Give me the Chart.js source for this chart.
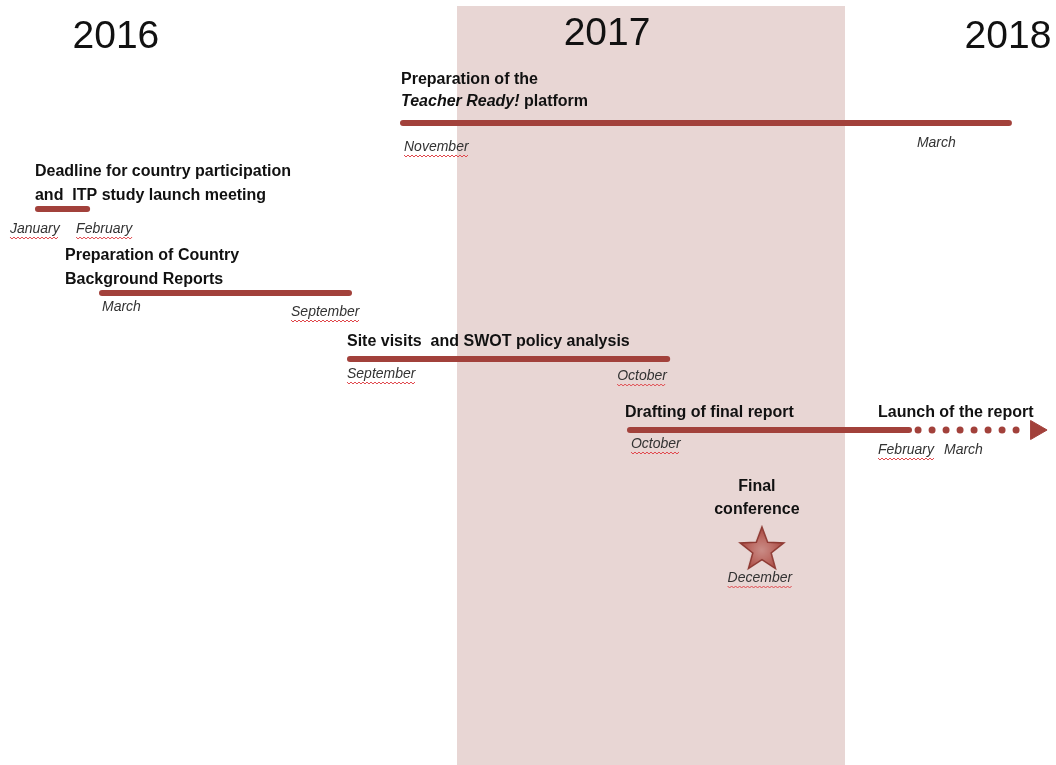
<!DOCTYPE html>
<html>
<head>
<meta charset="utf-8">
<script src="https://cdn.jsdelivr.net/npm/chart.js@4.4.1/dist/chart.umd.min.js"></script>
<style>
  html, body { margin: 0; padding: 0; background: #fff; }
  canvas { display: block; }
</style>
</head>
<body>
<canvas id="timeline" width="1056" height="765"></canvas>
<script>
// x = position on the drawn time axis, in months from January 2016 (the drawing is schematic, not to scale)
// y = lane of each activity, top to bottom
const yearLabels = ['2016', '2017', '2018'];
const yearPositions = [1.45, 16.64, 29.04];
const highlightedYear = [12, 24]; // shaded 2017 band

const activityTitles = [
    ['Preparation of the', '*Teacher Ready!* platform'],
    ['Deadline for country participation', 'and  ITP study launch meeting'],
    ['Preparation of Country', 'Background Reports'],
    ['Site visits  and SWOT policy analysis'],
    ['Drafting of final report'],
];
const activityStart = [10.33, -0.96, 1.02, 8.69, 17.35];
const activityEnd = [29.07, 0.56, 8.66, 18.50, 25.98];
const activityLane = [12.3, 20.9, 29.3, 35.9, 43.0];
const startMonths = ['November', 'January', 'March', 'September', 'October'];
const endMonths = ['March', 'February', 'September', 'October', null];

const launchTitle = 'Launch of the report';
const launchStart = 26.26;
const launchEnd = 29.66;
const launchArrow = 29.91;
const launchMonths = ['February', 'March'];

const conferenceTitle = ['Final', 'conference'];
const conferencePosition = 21.43;
const conferenceLane = 54.8;
const conferenceMonth = 'December';

// words the spell checker underlined in the original slide
const underlined = new Set(['January', 'February', 'September', 'October', 'November', 'December']);

// label placement, pixels relative to the start/end of each bar
const titleOffset = [
    { dx: -2, dy: [-43, -21] },
    { dx: -3, dy: [-37, -13] },
    { dx: -37, dy: [-37, -13] },
    { dx: -3, dy: [-17] },
    { dx: -5, dy: [-17] },
];
const startMonthOffset = [[1, 24], [-28, 20], [0, 14], [-3, 15], [1, 14]];
const endMonthOffset = [[-92, 20], [-11, 20], [-58, 19], [-50, 17], null];

const RED = '#a2413b';
const BAND = '#e8d6d4';
const TITLE_FONT = 'bold 16px "Liberation Sans", Arial, sans-serif';
const TITLE_ITALIC = 'italic bold 16px "Liberation Sans", Arial, sans-serif';
const MONTH_FONT = 'italic 14px "Liberation Sans", Arial, sans-serif';
const YEAR_FONT = '39px "Liberation Sans", Arial, sans-serif';

function makeStar(size) {
    const c = document.createElement('canvas');
    c.width = size;
    c.height = size;
    const g = c.getContext('2d');
    const cx = size / 2, cy = size / 2 + 2, outer = size / 2 - 2, inner = outer * 0.42;
    g.beginPath();
    for (let i = 0; i < 10; i++) {
        const r = i % 2 ? inner : outer;
        const a = -Math.PI / 2 + i * Math.PI / 5;
        const px = cx + Math.cos(a) * r, py = cy + Math.sin(a) * r;
        i ? g.lineTo(px, py) : g.moveTo(px, py);
    }
    g.closePath();
    const grad = g.createRadialGradient(cx, cy, 1, cx, cy, outer);
    grad.addColorStop(0, '#c98a84');
    grad.addColorStop(0.45, '#bd6e67');
    grad.addColorStop(1, '#a9463f');
    g.fillStyle = grad;
    g.fill();
    g.lineWidth = 1.5;
    g.strokeStyle = '#8e3a33';
    g.stroke();
    return c;
}

function squiggle(ctx, x, y, w) {
    ctx.save();
    ctx.strokeStyle = '#e0474c';
    ctx.lineWidth = 1;
    ctx.beginPath();
    for (let i = 0; i <= w; i += 2) {
        const yy = y + ((i / 2) % 2 ? 1 : -1);
        i === 0 ? ctx.moveTo(x + i, yy) : ctx.lineTo(x + i, yy);
    }
    ctx.stroke();
    ctx.restore();
}

function drawMonth(ctx, text, x, y, align) {
    ctx.font = MONTH_FONT;
    ctx.fillStyle = '#333';
    ctx.textAlign = 'left';
    ctx.textBaseline = 'middle';
    const w = ctx.measureText(text).width;
    const left = align === 'center' ? x - w / 2 : x;
    ctx.fillText(text, left, y);
    if (underlined.has(text)) squiggle(ctx, left, y + 9, w);
}

// '*...*' marks an italic run
function drawTitle(ctx, text, x, y, align) {
    const parts = text.split('*');
    let width = 0;
    parts.forEach((p, i) => {
        ctx.font = i % 2 ? TITLE_ITALIC : TITLE_FONT;
        width += ctx.measureText(p).width;
    });
    let cx = align === 'center' ? x - width / 2 : x;
    ctx.fillStyle = '#111';
    ctx.textAlign = 'left';
    ctx.textBaseline = 'middle';
    parts.forEach((p, i) => {
        ctx.font = i % 2 ? TITLE_ITALIC : TITLE_FONT;
        ctx.fillText(p, cx, y);
        cx += ctx.measureText(p).width;
    });
}

const timelineDecor = {
    id: 'timelineDecor',
    beforeDatasetsDraw(chart) {
        const { ctx, scales: { x, y } } = chart;
        ctx.save();
        ctx.fillStyle = BAND;
        const x0 = x.getPixelForValue(highlightedYear[0]);
        const x1 = x.getPixelForValue(highlightedYear[1]);
        const top = y.getPixelForValue(0.6);
        ctx.fillRect(x0, top, x1 - x0, y.getPixelForValue(y.max) - top);
        ctx.restore();
    },
    afterDatasetsDraw(chart) {
        const { ctx, scales: { x, y } } = chart;
        ctx.save();

        ctx.font = YEAR_FONT;
        ctx.fillStyle = '#111';
        ctx.textAlign = 'center';
        ctx.textBaseline = 'alphabetic';
        yearLabels.forEach((label, i) => {
            ctx.fillText(label, x.getPixelForValue(yearPositions[i]), y.getPixelForValue(i === 1 ? 4.5 : 4.8));
        });

        activityTitles.forEach((lines, i) => {
            const sx = x.getPixelForValue(activityStart[i]);
            const ex = x.getPixelForValue(activityEnd[i]);
            const ly = y.getPixelForValue(activityLane[i]);
            lines.forEach((line, j) => drawTitle(ctx, line, sx + titleOffset[i].dx, ly + titleOffset[i].dy[j]));
            drawMonth(ctx, startMonths[i], sx + startMonthOffset[i][0], ly + startMonthOffset[i][1]);
            if (endMonths[i]) drawMonth(ctx, endMonths[i], ex + endMonthOffset[i][0], ly + endMonthOffset[i][1]);
        });

        const dEnd = x.getPixelForValue(activityEnd[4]);
        const dLane = y.getPixelForValue(activityLane[4]);
        drawTitle(ctx, launchTitle, dEnd - 31, dLane - 17);
        drawMonth(ctx, launchMonths[0], dEnd - 31, dLane + 20);
        drawMonth(ctx, launchMonths[1], dEnd + 35, dLane + 20);

        const cx = x.getPixelForValue(conferencePosition);
        const cy = y.getPixelForValue(conferenceLane);
        drawTitle(ctx, conferenceTitle[0], cx - 5, cy - 61, 'center');
        drawTitle(ctx, conferenceTitle[1], cx - 5, cy - 38, 'center');
        drawMonth(ctx, conferenceMonth, cx - 2, cy + 30, 'center');

        ctx.restore();
    },
};

const barSets = activityTitles.map((_, i) => ({
    data: [{ x: activityStart[i], y: activityLane[i] }, { x: activityEnd[i], y: activityLane[i] }],
    borderColor: RED,
    borderWidth: 6,
    borderCapStyle: 'round',
    pointRadius: 0,
}));

new Chart(document.getElementById('timeline'), {
    type: 'line',
    data: {
        datasets: [
            ...barSets,
            {
                data: [{ x: launchStart, y: activityLane[4] }, { x: launchEnd, y: activityLane[4] }],
                borderColor: RED,
                borderWidth: 7,
                borderCapStyle: 'round',
                borderDash: [0, 14],
                pointRadius: 0,
            },
            {
                data: [{ x: launchArrow, y: activityLane[4] }],
                showLine: false,
                pointStyle: 'triangle',
                rotation: 90,
                pointRadius: 11,
                backgroundColor: RED,
                borderColor: RED,
                borderWidth: 1,
            },
            {
                data: [{ x: conferencePosition, y: conferenceLane }],
                showLine: false,
                pointStyle: makeStar(50),
            },
        ],
    },
    options: {
        responsive: false,
        animation: false,
        layout: { padding: 0, autoPadding: false },
        plugins: {
            legend: { display: false },
            tooltip: { enabled: false },
        },
        scales: {
            x: { type: 'linear', min: -2.134, max: 30.526, display: false },
            y: { type: 'linear', min: 0, max: 76.5, reverse: true, display: false },
        },
    },
    plugins: [timelineDecor],
});
</script>
</body>
</html>
